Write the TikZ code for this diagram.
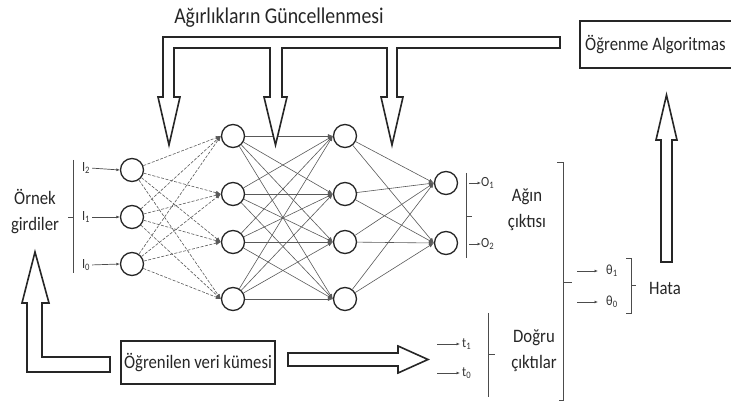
\documentclass[tikz,border=0pt]{standalone}
\usepackage{fontspec}
\setmainfont{Carlito}[FakeStretch=0.88]
\usetikzlibrary{arrows.meta}
\begin{document}
\begin{tikzpicture}[x=1pt,y=-1pt,
  neuron/.style={circle,draw=black!85,line width=1.3pt,minimum size=23pt,inner sep=0pt},
  link/.style={draw=black!65,line width=0.6pt,-{Latex[length=5pt,width=4pt]}},
  dlink/.style={link,dash pattern=on 3pt off 1.5pt},
  hollow/.style={draw=black!85,line width=1.6pt,fill=white,line join=miter},
  box/.style={draw=black!85,line width=1.5pt,inner sep=0pt},
  brace/.style={draw=black!70,line width=0.9pt},
  small/.style={draw=black!70,line width=0.7pt,-{Latex[length=3.5pt,width=3pt]}},
  big/.style={font=\fontsize{19}{26}\selectfont,inner sep=0pt,text=black!85},
  tiny/.style={font=\fontsize{14}{16}\selectfont,inner sep=0pt,text=black!80},
]
\useasboundingbox (0,0) rectangle (731,403);

% ---- layers ----
\foreach \n/\y in {2/170,1/217,0/264} \node[neuron] (in\n) at (132,\y) {};
\foreach \n/\y in {1/136,2/194,3/242,4/299} {
  \node[neuron] (ha\n) at (233,\y) {};
  \node[neuron] (hb\n) at (345,\y) {};
}
\node[neuron] (out1) at (446,183) {};
\node[neuron] (out2) at (446,243) {};

% ---- connections ----
\foreach \s in {2,1,0} \foreach \t in {1,2,3,4} \draw[dlink] (in\s) -- (ha\t.west);
\foreach \s in {1,2,3,4} \foreach \t in {1,2,3,4} \draw[link] (ha\s) -- (hb\t.west);
\foreach \s in {1,2,3,4} \foreach \t in {1,2} \draw[link] (hb\s) -- (out\t.west);

% ---- input labels ----
\foreach \n/\y in {2/168,1/217,0/265} {
  \node[tiny] (lab\n) at (86,\y) {I\textsubscript{\n}};
  \draw[small,shorten <=2pt] (lab\n.east) -- (in\n.west);
}
\draw[brace] (73,160) -- (73,273) (68,217) -- (73,217);
\node[big,align=center] (ornek) at (35,212) {Örnek\\girdiler};

% ---- output labels ----
\draw[brace] (466,173) -- (466,258) (466,216) -- (472,216);
\node[tiny,anchor=west] (o1) at (481,183) {O\textsubscript{1}};
\node[tiny,anchor=west] (o2) at (481,244) {O\textsubscript{2}};
\coordinate (o1s) at (469,183);
\coordinate (o2s) at (469,244);
\draw[small] (o1s) -- (o1.west);
\draw[small] (o2s) -- (o2.west);
\node[big,align=center] (agin) at (527,210) {Ağın\\çıktısı};

% ---- target outputs ----
\draw[brace] (488,313) -- (488,397) (488,354) -- (495,354);
\node[tiny,anchor=west] (t1) at (462,344) {t\textsubscript{1}};
\node[tiny,anchor=west] (t0) at (462,373) {t\textsubscript{0}};
\coordinate (t1s) at (437,344);
\coordinate (t0s) at (437,373);
\draw[small,shorten >=2pt] (t1s) -- (t1.west);
\draw[small,shorten >=2pt] (t0s) -- (t0.west);
\node[big,align=center] (dogru) at (534,351) {Doğru\\çıktılar};

% ---- error ----
\draw[brace] (557,162) -- (563,162) -- (563,400) -- (559,400) (563,282) -- (572,282);
\node[tiny,anchor=west] (th1) at (606,271) {θ\textsubscript{1}};
\node[tiny,anchor=west] (th0) at (606,302) {θ\textsubscript{0}};
\coordinate (th1s) at (577,271);
\coordinate (th0s) at (577,302);
\draw[small,shorten >=8pt] (th1s) -- (th1.west);
\draw[small,shorten >=8pt] (th0s) -- (th0.west);
\draw[brace] (626,258) -- (631,258) -- (631,313) -- (626,313) (631,285) -- (636,285);
\node[big] (hata) at (665,288) {Hata};

% ---- boxes ----
\node[box,minimum width=154pt,minimum height=43pt,big] (veri) at (198,362.5) {Öğrenilen veri kümesi};
\draw[box] (745,21) -- (580,21) -- (580,68) -- (745,68);
\node[big,anchor=west] (algo) at (585,44.5) {Öğrenme Algoritmas};
\node[big,font=\fontsize{22.5}{26}\selectfont] (title) at (279,18) {Ağırlıkların Güncellenmesi};

% ---- hollow arrows ----
\draw[hollow] (560,37) -- (163,37) -- (163,97) -- (158,97) -- (169,145) -- (180,97) -- (174,97) -- (174,48)
  -- (270,48) -- (270,97) -- (264,97) -- (275.5,145) -- (287,97) -- (282,97) -- (282,48)
  -- (387,48) -- (387,97) -- (381,97) -- (392,145) -- (403,97) -- (397,97) -- (397,48)
  -- (560,48) -- cycle;
\draw[hollow] (661,262) -- (661,140) -- (656,140) -- (666.5,95) -- (677,140) -- (672,140) -- (672,262) -- cycle;
\draw[hollow] (110,357) -- (42,357) -- (42,303) -- (49,303) -- (35,252) -- (22,303) -- (27,303) -- (27,372) -- (110,372) -- cycle;
\draw[hollow] (288,353) -- (398,353) -- (398,346) -- (428,359.5) -- (398,373) -- (398,366) -- (288,366) -- cycle;
\end{tikzpicture}
\end{document}
